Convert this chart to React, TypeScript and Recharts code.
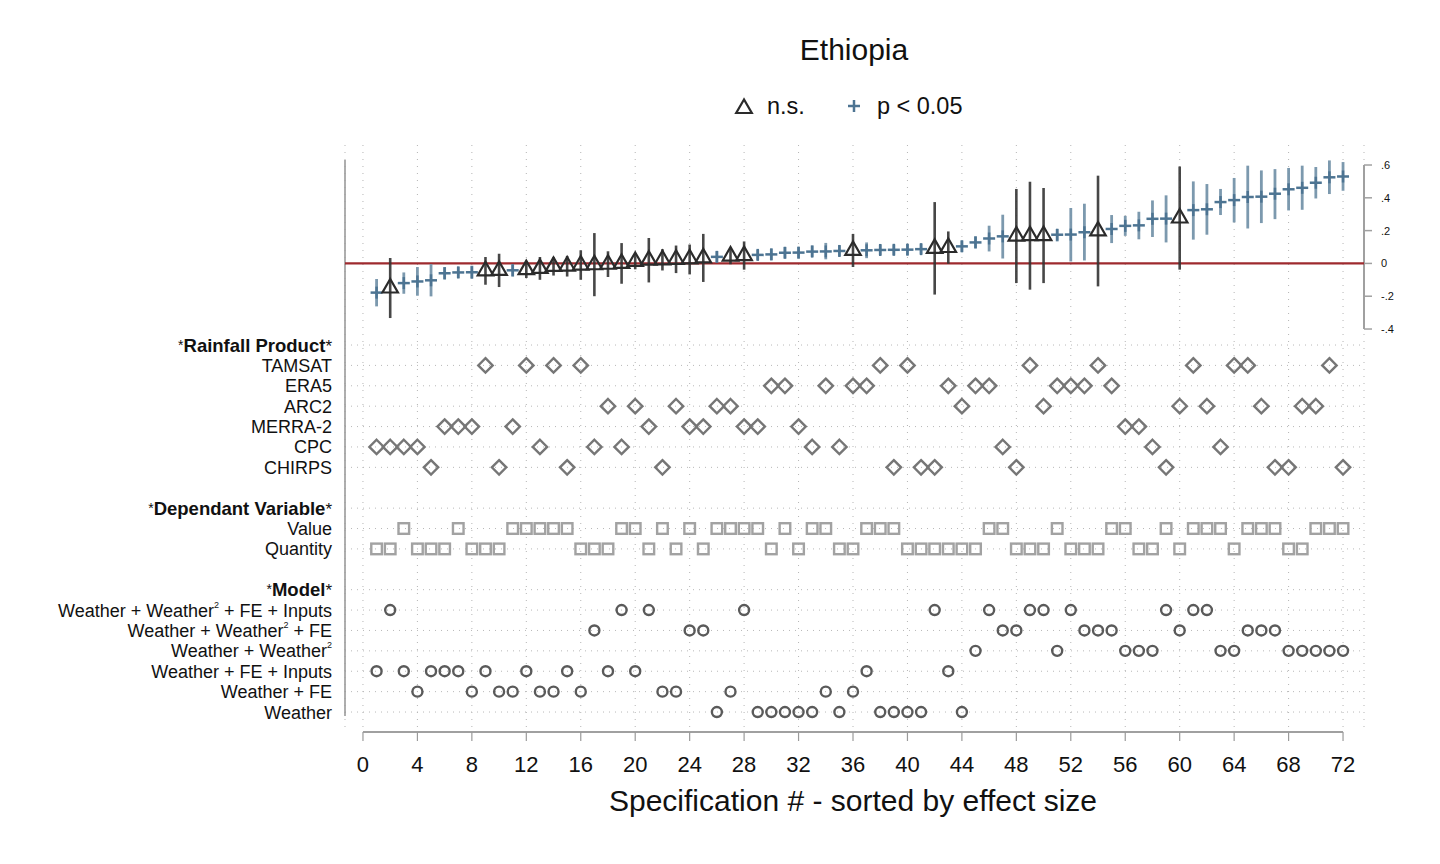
import React from 'react';
import { ComposedChart, Scatter, XAxis, YAxis, CartesianGrid, ReferenceLine, ErrorBar } from 'recharts';

// ---------- data ----------
const specNumbers = [
  1, 2, 3, 4, 5, 6, 7, 8, 9, 10, 11, 12, 13, 14, 15, 16, 17, 18, 19, 20, 21, 22, 23, 24,
  25, 26, 27, 28, 29, 30, 31, 32, 33, 34, 35, 36, 37, 38, 39, 40, 41, 42, 43, 44, 45, 46, 47, 48,
  49, 50, 51, 52, 53, 54, 55, 56, 57, 58, 59, 60, 61, 62, 63, 64, 65, 66, 67, 68, 69, 70, 71, 72,
];
const coef = [
  -0.178, -0.15, -0.12, -0.11, -0.103, -0.06, -0.055, -0.054, -0.045, -0.043, -0.042, -0.038,
  -0.03, -0.018, -0.016, -0.01, -0.008, -0.005, 0.0, 0.012, 0.02, 0.022, 0.025, 0.028,
  0.034, 0.04, 0.045, 0.048, 0.052, 0.055, 0.065, 0.066, 0.072, 0.073, 0.076, 0.079,
  0.08, 0.082, 0.083, 0.084, 0.087, 0.092, 0.097, 0.104, 0.128, 0.152, 0.165, 0.167,
  0.169, 0.17, 0.175, 0.176, 0.19, 0.198, 0.21, 0.229, 0.232, 0.272, 0.273, 0.277,
  0.325, 0.33, 0.374, 0.386, 0.405, 0.407, 0.425, 0.452, 0.461, 0.492, 0.525, 0.53,
];
const ciLow = [
  -0.262, -0.333, -0.185, -0.197, -0.201, -0.098, -0.09, -0.094, -0.13, -0.144, -0.08, -0.089,
  -0.1, -0.074, -0.08, -0.1, -0.2, -0.083, -0.124, -0.036, -0.116, -0.043, -0.059, -0.067,
  -0.113, 0.006, -0.005, -0.038, 0.02, 0.02, 0.03, 0.03, 0.04, 0.025, 0.043, -0.022,
  0.032, 0.05, 0.05, 0.05, 0.055, -0.19, -0.002, 0.07, 0.092, 0.073, 0.03, -0.12,
  -0.16, -0.12, 0.134, 0.012, 0.018, -0.14, 0.124, 0.168, 0.147, 0.161, 0.128, -0.038,
  0.145, 0.175, 0.295, 0.25, 0.213, 0.246, 0.27, 0.323, 0.327, 0.396, 0.423, 0.443,
];
const ciHigh = [
  -0.095, 0.033, -0.055, -0.022, -0.004, -0.022, -0.02, -0.014, 0.039, 0.059, -0.004, 0.012,
  0.039, 0.038, 0.045, 0.08, 0.185, 0.074, 0.124, 0.06, 0.155, 0.087, 0.109, 0.115,
  0.18, 0.075, 0.094, 0.134, 0.084, 0.09, 0.1, 0.1, 0.11, 0.125, 0.11, 0.18,
  0.128, 0.115, 0.115, 0.118, 0.12, 0.374, 0.195, 0.14, 0.165, 0.23, 0.297, 0.454,
  0.498, 0.46, 0.21, 0.338, 0.364, 0.535, 0.295, 0.29, 0.315, 0.384, 0.415, 0.591,
  0.5, 0.484, 0.454, 0.521, 0.596, 0.567, 0.575, 0.582, 0.596, 0.588, 0.628, 0.618,
];
const notSignificant = [2, 9, 10, 12, 13, 14, 15, 16, 17, 18, 19, 20, 21, 22, 23, 24, 25, 27, 28, 36, 42, 43, 48, 49, 50, 54, 60];

// indicator rows (spec numbers marked in each row)
const tamsat = [9, 12, 14, 16, 38, 40, 49, 54, 61, 64, 65, 71];
const era5 = [30, 31, 34, 36, 37, 43, 45, 46, 51, 52, 53, 55];
const arc2 = [18, 20, 23, 26, 27, 44, 50, 60, 62, 66, 69, 70];
const merra2 = [6, 7, 8, 11, 21, 24, 25, 28, 29, 32, 56, 57];
const cpc = [1, 2, 3, 4, 13, 17, 19, 33, 35, 47, 58, 63];
const chirps = [5, 10, 15, 22, 39, 41, 42, 48, 59, 67, 68, 72];
const valueSpecs = [3, 7, 11, 12, 13, 14, 15, 19, 20, 22, 24, 26, 27, 28, 29, 31, 33, 34, 37, 38, 39, 46, 47, 51, 55, 56, 59, 61, 62, 63, 65, 66, 67, 70, 71, 72];
const quantitySpecs = [1, 2, 4, 5, 6, 8, 9, 10, 16, 17, 18, 21, 23, 25, 30, 32, 35, 36, 40, 41, 42, 43, 44, 45, 48, 49, 50, 52, 53, 54, 57, 58, 60, 64, 68, 69];
const modelW2FEInputs = [2, 19, 21, 28, 42, 46, 49, 50, 52, 59, 61, 62];
const modelW2FE = [17, 24, 25, 47, 48, 53, 54, 55, 60, 65, 66, 67];
const modelW2 = [45, 51, 56, 57, 58, 63, 64, 68, 69, 70, 71, 72];
const modelFEInputs = [1, 3, 5, 6, 7, 9, 12, 15, 18, 20, 37, 43];
const modelFE = [4, 8, 10, 11, 13, 14, 16, 22, 23, 27, 34, 36];
const modelWeather = [26, 29, 30, 31, 32, 33, 35, 38, 39, 40, 41, 44];

const rowLabels = [
  '*Rainfall Product*', 'TAMSAT', 'ERA5', 'ARC2', 'MERRA-2', 'CPC', 'CHIRPS', '',
  '*Dependant Variable*', 'Value', 'Quantity', '',
  '*Model*', 'Weather + Weather^2 + FE + Inputs', 'Weather + Weather^2 + FE', 'Weather + Weather^2',
  'Weather + FE + Inputs', 'Weather + FE', 'Weather',
];
const rowTicks = [0, 1, 2, 3, 4, 5, 6, 8, 9, 10, 12, 13, 14, 15, 16, 17, 18];
const xTicks = [0, 4, 8, 12, 16, 20, 24, 28, 32, 36, 40, 44, 48, 52, 56, 60, 64, 68, 72];
const coefTicks = [-0.4, -0.2, 0, 0.2, 0.4, 0.6];

const indicatorRows = [
  { row: 1, specs: tamsat, kind: 'diamond' },
  { row: 2, specs: era5, kind: 'diamond' },
  { row: 3, specs: arc2, kind: 'diamond' },
  { row: 4, specs: merra2, kind: 'diamond' },
  { row: 5, specs: cpc, kind: 'diamond' },
  { row: 6, specs: chirps, kind: 'diamond' },
  { row: 9, specs: valueSpecs, kind: 'square' },
  { row: 10, specs: quantitySpecs, kind: 'square' },
  { row: 13, specs: modelW2FEInputs, kind: 'circle' },
  { row: 14, specs: modelW2FE, kind: 'circle' },
  { row: 15, specs: modelW2, kind: 'circle' },
  { row: 16, specs: modelFEInputs, kind: 'circle' },
  { row: 17, specs: modelFE, kind: 'circle' },
  { row: 18, specs: modelWeather, kind: 'circle' },
];

// ---------- derived ----------
const points = specNumbers.map((s, i) => ({
  x: s,
  y: coef[i],
  err: [coef[i] - ciLow[i], ciHigh[i] - coef[i]],
}));
const sigPoints = points.filter((p) => !notSignificant.includes(p.x));
const nsPoints = points.filter((p) => notSignificant.includes(p.x));

const X_DOMAIN: [number, number] = [-1.32, 73.54];
const COEF_DOMAIN: [number, number] = [-2.857, 0.722];
const ROW_DOMAIN: [number, number] = [-9.81, 18.98];

const BLUE = '#4d7492';
const BLUE_CI = '#7593aa';
const DARK = '#2b2b2b';

// ---------- shapes ----------
const PlusShape = (p: any) => (
  <g>
    <line x1={p.cx - 6} x2={p.cx + 6} y1={p.cy} y2={p.cy} stroke={BLUE} strokeWidth={2.5} />
    <line x1={p.cx} x2={p.cx} y1={p.cy - 6} y2={p.cy + 6} stroke={BLUE} strokeWidth={2.5} />
  </g>
);
const TriangleShape = (p: any) => {
  const w = 15.5;
  const h = 13.5;
  const pts = `${p.cx},${p.cy - (2 * h) / 3} ${p.cx - w / 2},${p.cy + h / 3} ${p.cx + w / 2},${p.cy + h / 3}`;
  return <polygon points={pts} fill="none" stroke={DARK} strokeWidth={2.2} strokeLinejoin="miter" />;
};
const DiamondShape = (p: any) => {
  const r = 7.2;
  const pts = `${p.cx},${p.cy - r} ${p.cx + r},${p.cy} ${p.cx},${p.cy + r} ${p.cx - r},${p.cy}`;
  return <polygon points={pts} fill="none" stroke="#767676" strokeWidth={2.4} />;
};
const SquareShape = (p: any) => (
  <rect x={p.cx - 5.3} y={p.cy - 5.3} width={10.6} height={10.6} fill="none" stroke="#a2a2a2" strokeWidth={2.4} />
);
const CircleShape = (p: any) => (
  <circle cx={p.cx} cy={p.cy} r={5} fill="none" stroke="#5a5a5a" strokeWidth={2.4} />
);
const shapeFor: Record<string, any> = { diamond: DiamondShape, square: SquareShape, circle: CircleShape };

// ---------- ticks ----------
const RowTick = (props: any) => {
  const { x, y, payload } = props;
  const label: string = rowLabels[payload.value] || '';
  const common = { x, y: y + 6.5, textAnchor: 'end' as const, fontSize: 18, fill: '#111' };
  if (label.startsWith('*')) {
    const inner = label.slice(1, -1);
    return (
      <text {...common}>
        <tspan fontSize={14} dy={-2}>*</tspan>
        <tspan fontWeight="bold" fontSize={18.5} dy={2}>{inner}</tspan>
        <tspan fontSize={17}>*</tspan>
      </text>
    );
  }
  if (label.includes('^2')) {
    const [a, b] = label.split('^2');
    return (
      <text {...common}>
        <tspan>{a}</tspan>
        <tspan fontSize={9} dy={-9}>2</tspan>
        <tspan dy={9}>{b}</tspan>
      </text>
    );
  }
  return <text {...common}>{label}</text>;
};

const fmtCoef = (v: number) => {
  if (Math.abs(v) < 1e-9) return '0';
  const s = Math.abs(v).toFixed(1).replace(/^0/, '');
  return (v < 0 ? '-' : '') + s;
};

export default function App() {
  return (
    <div
      style={{
        position: 'absolute',
        left: 0,
        top: 0,
        width: 1440,
        height: 864,
        background: '#fff',
        fontFamily: '"Liberation Sans", Arial, sans-serif',
        color: '#111',
      }}
    >
      <div style={{ position: 'absolute', left: 654, width: 400, top: 32, textAlign: 'center', fontSize: 30, lineHeight: '36px' }}>
        Ethiopia
      </div>
      {/* legend */}
      <div style={{ position: 'absolute', left: 733, top: 91, height: 30, display: 'flex', alignItems: 'center', fontSize: 23.5 }}>
        <svg width={22} height={22} style={{ marginRight: 12 }}>
          <polygon points="11,4.5 3.2,18 18.8,18" fill="none" stroke={DARK} strokeWidth={2.2} />
        </svg>
        <span>n.s.</span>
        <svg width={22} height={22} style={{ marginLeft: 38, marginRight: 12 }}>
          <line x1={5} x2={17} y1={11} y2={11} stroke={BLUE} strokeWidth={2.5} />
          <line x1={11} x2={11} y1={5} y2={17} stroke={BLUE} strokeWidth={2.5} />
        </svg>
        <span>p &lt; 0.05</span>
      </div>

      <div style={{ position: 'absolute', left: 0, top: 0 }}>
        <ComposedChart width={1440} height={864} margin={{ top: 145, right: 36, bottom: 32, left: 45 }}>
          <CartesianGrid vertical horizontal={false} stroke="#b5b5b5" strokeDasharray="1 6" yAxisId="row" />
          <XAxis
            dataKey="x"
            type="number"
            domain={X_DOMAIN}
            allowDataOverflow
            ticks={xTicks}
            interval={0}
            axisLine={false}
            tickLine={{ stroke: '#9a9a9a', strokeWidth: 1.2 }}
            tickSize={9}
            tickMargin={15}
            tick={{ fontSize: 22, fill: '#111' }}
            height={100}
          />
          <YAxis
            yAxisId="row"
            type="number"
            domain={ROW_DOMAIN}
            allowDataOverflow
            reversed
            ticks={rowTicks}
            interval={0}
            tick={<RowTick />}
            tickLine={false}
            axisLine={false}
            tickSize={0}
            tickMargin={13}
            width={300}
          />
          <YAxis
            yAxisId="coef"
            orientation="right"
            type="number"
            domain={COEF_DOMAIN}
            allowDataOverflow
            ticks={coefTicks}
            interval={0}
            tickFormatter={fmtCoef}
            tick={{ fontSize: 11, fill: '#111' }}
            tickLine={{ stroke: '#a0a0a0', strokeWidth: 1.5 }}
            tickSize={8}
            tickMargin={9}
            axisLine={false}
            width={40}
          />

          {/* horizontal dotted row lines */}
          {rowTicks.map((r) => (
            <ReferenceLine key={'h' + r} yAxisId="row" y={r} stroke="#b8b8b8" strokeDasharray="1 5" ifOverflow="visible" />
          ))}
          {/* axis lines */}
          <ReferenceLine
            yAxisId="row"
            segment={[{ x: X_DOMAIN[0], y: -9.07 }, { x: X_DOMAIN[0], y: 18.2 }]}
            stroke="#9a9a9a"
            strokeWidth={1.6}
            ifOverflow="visible"
          />
          <ReferenceLine
            yAxisId="row"
            segment={[{ x: 0, y: ROW_DOMAIN[1] }, { x: 72, y: ROW_DOMAIN[1] }]}
            stroke="#a0a0a0"
            strokeWidth={2}
            ifOverflow="visible"
          />
          <ReferenceLine
            yAxisId="coef"
            segment={[{ x: X_DOMAIN[1], y: -0.4 }, { x: X_DOMAIN[1], y: 0.6 }]}
            stroke="#a0a0a0"
            strokeWidth={2}
            ifOverflow="visible"
          />
          {/* zero line */}
          <ReferenceLine yAxisId="coef" y={0} stroke="#9e2a2e" strokeWidth={2.4} ifOverflow="visible" />

          <Scatter yAxisId="coef" data={sigPoints} dataKey="y" shape={PlusShape} isAnimationActive={false}>
            <ErrorBar dataKey="err" direction="y" width={0} stroke={BLUE_CI} strokeWidth={2.8} strokeOpacity={0.95} />
          </Scatter>
          <Scatter yAxisId="coef" data={nsPoints} dataKey="y" shape={TriangleShape} isAnimationActive={false}>
            <ErrorBar dataKey="err" direction="y" width={0} stroke="#333" strokeWidth={2.6} strokeOpacity={0.9} />
          </Scatter>

          {indicatorRows.map((r) => (
            <Scatter
              key={'r' + r.row}
              yAxisId="row"
              data={r.specs.map((s) => ({ x: s, y: r.row }))}
              dataKey="y"
              shape={shapeFor[r.kind]}
              isAnimationActive={false}
            />
          ))}
        </ComposedChart>
      </div>

      <div style={{ position: 'absolute', left: 453, width: 800, top: 783, textAlign: 'center', fontSize: 30, lineHeight: '36px' }}>
        Specification # - sorted by effect size
      </div>
    </div>
  );
}
